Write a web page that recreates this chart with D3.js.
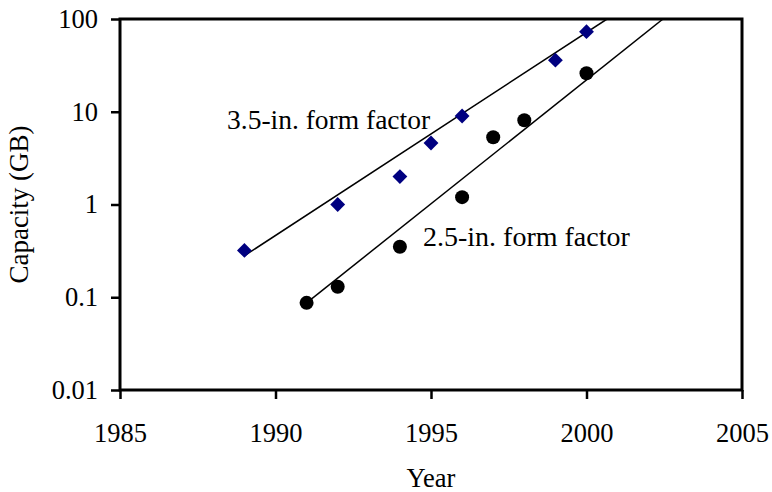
<!DOCTYPE html>
<html>
<head>
<meta charset="utf-8">
<style type="text/css">
    body { margin: 0; background: #fff; }
    text { font-family: "Liberation Serif", "Times New Roman", serif; fill: #000; }
    .axis path, .axis line { stroke: #000; stroke-width: 3; }
    .frame { fill: none; stroke: #000; stroke-width: 3; }
    .trend { fill: none; stroke: #000; stroke-width: 1.5; }
</style>
</head>
<body>
<svg id="chart"></svg>
<script src="https://d3js.org/d3.v7.min.js"></script>
<script type="text/javascript">
// data
var xTicks = [1985, 1990, 1995, 2000, 2005];
var yTicks = [0.01, 0.1, 1, 10, 100];

var years35 = [1989, 1992, 1994, 1995, 1996, 1999, 2000];
var cap35 = [0.32, 1.0, 2.0, 4.6, 9.0, 36, 73];

var years25 = [1991, 1992, 1994, 1996, 1997, 1998, 2000];
var cap25 = [0.087, 0.13, 0.35, 1.2, 5.3, 8.1, 26];

// trend lines (start / end as drawn)
var trendYears35 = [1989, 2000.66];
var trendCap35 = [0.28, 100];
var trendYears25 = [1991, 2002.46];
var trendCap25 = [0.087, 100];

var labels = ["3.5-in. form factor", "2.5-in. form factor"];

var width = 772, height = 492;
var margin = {top: 19, right: 30, bottom: 102, left: 120};

var svg = d3.select("#chart").attr("width", width).attr("height", height);

var x = d3.scaleLinear().domain([1985, 2005]).range([margin.left, width - margin.right]);
var y = d3.scaleLog().domain([0.01, 100]).range([height - margin.bottom, margin.top]);

svg.append("defs").append("clipPath").attr("id", "clip")
    .append("rect")
    .attr("x", x(1985)).attr("y", y(100))
    .attr("width", x(2005) - x(1985)).attr("height", y(0.01) - y(100));

// frame
svg.append("rect").attr("class", "frame")
    .attr("x", x(1985)).attr("y", y(100))
    .attr("width", x(2005) - x(1985)).attr("height", y(0.01) - y(100));

var xAxis = svg.append("g").attr("class", "axis")
    .attr("transform", "translate(0," + y(0.01) + ")")
    .call(d3.axisBottom(x).tickValues(xTicks).tickFormat(d3.format("d")).tickSize(9).tickPadding(24));
xAxis.selectAll("text").style("font-size", "26.5px").attr("font-family", null);
xAxis.select(".domain").remove();
xAxis.selectAll("line").style("stroke-width", 2.5);

var yAxis = svg.append("g").attr("class", "axis")
    .attr("transform", "translate(" + x(1985) + ",0)")
    .call(d3.axisLeft(y).tickValues(yTicks).tickFormat(function(d) { return String(d); }).tickSize(9).tickPadding(13));
yAxis.selectAll("text").style("font-size", "26.5px").attr("font-family", null);
yAxis.select(".domain").remove();
yAxis.selectAll("line").style("stroke-width", 2.5);

var line = d3.line()
    .x(function(d) { return x(d[0]); })
    .y(function(d) { return y(d[1]); });

var plot = svg.append("g").attr("clip-path", "url(#clip)");

plot.append("path").attr("class", "trend")
    .attr("d", line(d3.zip(trendYears35, trendCap35)));
plot.append("path").attr("class", "trend")
    .attr("d", line(d3.zip(trendYears25, trendCap25)));

var diamond = d3.symbol().type(d3.symbolSquare).size(110);
plot.selectAll("path.p35")
    .data(d3.zip(years35, cap35))
    .enter().append("path")
    .attr("class", "p35")
    .attr("d", diamond)
    .attr("fill", "#000080")
    .attr("transform", function(d) {
        return "translate(" + x(d[0]) + "," + y(d[1]) + ") rotate(45)";
    });

plot.selectAll("circle.p25")
    .data(d3.zip(years25, cap25))
    .enter().append("circle")
    .attr("class", "p25")
    .attr("r", 7)
    .attr("fill", "#000")
    .attr("cx", function(d) { return x(d[0]); })
    .attr("cy", function(d) { return y(d[1]); });

svg.append("text").attr("x", 227).attr("y", 129)
    .style("font-size", "27.5px").text(labels[0]);
svg.append("text").attr("x", 423).attr("y", 246)
    .style("font-size", "28px").text(labels[1]);

svg.append("text")
    .attr("x", (x(1985) + x(2005)) / 2).attr("y", 487)
    .attr("text-anchor", "middle")
    .style("font-size", "26.5px")
    .text("Year");

svg.append("text")
    .attr("transform", "translate(28," + (y(0.01) + y(100)) / 2 + ") rotate(-90)")
    .attr("text-anchor", "middle")
    .style("font-size", "27px")
    .text("Capacity (GB)");
</script>
</body>
</html>
